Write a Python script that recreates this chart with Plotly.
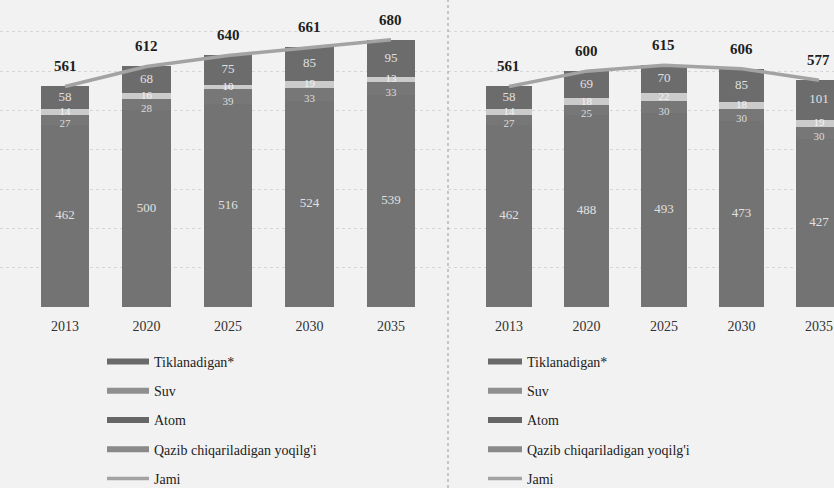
import plotly.graph_objects as go

years = ["2013", "2020", "2025", "2030", "2035"]
series_names = ["Tiklanadigan*", "Suv", "Atom", "Qazib chiqariladigan yoqilg'i", "Jami"]

# Left panel
a_tiklanadigan = [58, 68, 75, 85, 95]
a_suv = [14, 16, 10, 19, 13]
a_atom = [27, 28, 39, 33, 33]
a_qazib = [462, 500, 516, 524, 539]
a_jami = [561, 612, 640, 661, 680]

# Right panel
b_tiklanadigan = [58, 69, 70, 85, 101]
b_suv = [14, 18, 22, 18, 19]
b_atom = [27, 25, 30, 30, 30]
b_qazib = [462, 488, 493, 473, 427]
b_jami = [561, 600, 615, 606, 577]

W, H = 834, 488
SERIF = "Liberation Serif, Times New Roman, serif"
colors = {"Tiklanadigan*": "#6c6c6c", "Suv": "#cbcbcb", "Atom": "#777777",
          "Qazib chiqariladigan yoqilg'i": "#737373"}
legend_colors = {"Tiklanadigan*": "#6a6a6a", "Suv": "#8f8f8f", "Atom": "#666666",
                 "Qazib chiqariladigan yoqilg'i": "#8a8a8a"}
# label size, colour, relative position inside the segment
label_style = {
    "Tiklanadigan*": (13, "#e0e0e0", 0.5),
    "Suv": (11, "#f4f4f4", 0.5),
    "Atom": (11, "#dcdcdc", 0.12),
    "Qazib chiqariladigan yoqilg'i": (13, "#e0e0e0", 0.5),
}

xi = list(range(len(years)))
fig = go.Figure()


def add_panel(xa, ya, legend, tik, suv, atom, qaz, jami):
    stack = [(series_names[3], qaz), (series_names[2], atom), (series_names[1], suv), (series_names[0], tik)]
    base = [0] * len(xi)
    for name, vals in stack:
        fig.add_trace(go.Bar(
            x=xi, y=vals, name=name, xaxis=xa, yaxis=ya, showlegend=False,
            marker=dict(color=colors[name], line=dict(width=0)),
            width=0.59, hoverinfo="skip"))
        size, col, rel = label_style[name]
        fig.add_trace(go.Scatter(
            x=xi, y=[b + v * rel for b, v in zip(base, vals)], mode="text",
            text=[str(v) for v in vals], textposition="middle center",
            textfont=dict(family=SERIF, size=size, color=col),
            xaxis=xa, yaxis=ya, showlegend=False, hoverinfo="skip"))
        base = [b + v for b, v in zip(base, vals)]
    fig.add_trace(go.Scatter(
        x=xi, y=jami, mode="lines", name=series_names[4], xaxis=xa, yaxis=ya,
        line=dict(color="#a3a3a3", width=3.5), legend=legend, legendrank=5,
        legendgroup=legend + "j", hoverinfo="skip"))
    for k, name in enumerate(series_names[:4]):
        fig.add_trace(go.Scatter(
            x=[None], y=[None], mode="lines", name=name, xaxis=xa, yaxis=ya,
            line=dict(color=legend_colors[name], width=6), legend=legend,
            legendrank=k + 1, legendgroup=legend + str(k)))
    xref = "x" if xa == "x" else "x2"
    yref = "y" if ya == "y" else "y2"
    for i, v in zip(xi, jami):
        fig.add_annotation(x=i, y=v, xref=xref, yref=yref, text="<b>%d</b>" % v, showarrow=False,
                           yshift=20, font=dict(family=SERIF, size=15, color="#1e1e1e"),
                           textangle=0)


add_panel("x", "y", "legend", a_tiklanadigan, a_suv, a_atom, a_qazib, a_jami)
add_panel("x2", "y2", "legend2", b_tiklanadigan, b_suv, b_atom, b_qazib, b_jami)

ydom = [1 - 307 / H, 1]
yrange = [0, 781]
axis_common = dict(showline=False, zeroline=False, ticks="outside", ticklen=6,
                   tickcolor="rgba(0,0,0,0)", tickfont=dict(family=SERIF, size=14, color="#333333"),
                   tickvals=xi, ticktext=years, showgrid=False, fixedrange=True)
yaxis_common = dict(range=yrange, domain=ydom, showticklabels=False, showgrid=True,
                    gridcolor="#d6d6d6", griddash="dot", gridwidth=1, dtick=100,
                    zeroline=False, showline=False, ticks="", fixedrange=True)

legend_font = dict(family=SERIF, size=14, color="#222222")
fig.update_layout(
    width=W, height=H,
    margin=dict(l=0, r=0, t=0, b=0, autoexpand=False),
    paper_bgcolor="#f2f2f2", plot_bgcolor="rgba(0,0,0,0)",
    barmode="stack", bargap=0,
    xaxis=dict(domain=[0, 442 / W], range=[-0.798, 4.626], **axis_common),
    xaxis2=dict(domain=[448 / W, 1], range=[-0.787, 4.194], anchor="y2", **axis_common),
    yaxis=dict(anchor="x", **yaxis_common),
    yaxis2=dict(anchor="x2", **yaxis_common),
    legend=dict(x=102 / W, y=1 - 346 / H, xanchor="left", yanchor="top",
                bgcolor="rgba(0,0,0,0)", font=legend_font,
                itemwidth=42, tracegroupgap=8, traceorder="grouped"),
    legend2=dict(x=483 / W, y=1 - 346 / H, xanchor="left", yanchor="top",
                 bgcolor="rgba(0,0,0,0)", font=legend_font,
                 itemwidth=34, tracegroupgap=8, traceorder="grouped"),
    showlegend=True,
)

fig.add_shape(type="line", xref="paper", yref="paper", x0=448 / W, x1=448 / W, y0=0, y1=1,
              line=dict(color="#9a9a9a", width=1, dash="dot"))

fig.write_html("out.html", config={"displayModeBar": False},
               post_script="document.body.style.margin='0';document.body.style.overflow='hidden';")
